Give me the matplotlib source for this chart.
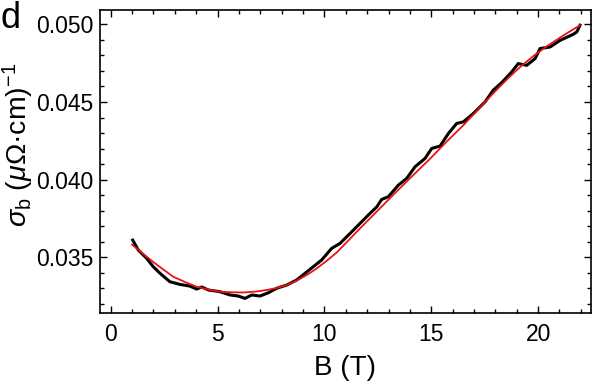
import numpy as np
import matplotlib
matplotlib.use("Agg")
import matplotlib.pyplot as plt
from matplotlib.ticker import MultipleLocator, FormatStrFormatter

plt.rcParams['font.family'] = ['Liberation Sans', 'DejaVu Sans']
plt.rcParams['mathtext.fontset'] = 'custom'
plt.rcParams['mathtext.rm'] = 'Liberation Sans'
plt.rcParams['mathtext.it'] = 'Liberation Sans:italic'

b_data = [1.03, 1.29, 1.68, 1.99, 2.31, 2.77, 3.24, 3.71, 4.02, 4.26, 4.57, 5.11,
          5.58, 5.97, 6.28, 6.60, 6.99, 7.37, 7.77, 8.24, 8.70, 9.09, 9.48, 9.87,
          10.34, 10.73, 11.20, 11.67, 12.05, 12.45, 12.68, 12.99, 13.46, 13.85,
          14.24, 14.71, 15.02, 15.41, 15.80, 16.19, 16.50, 16.97, 17.52, 17.90,
          18.30, 18.76, 19.07, 19.47, 19.86, 20.09, 20.56, 21.03, 21.65, 21.81, 21.96]
sigma_data = [0.03611, 0.03547, 0.03494, 0.03440, 0.03397, 0.03343, 0.03326, 0.03315,
              0.03296, 0.03309, 0.03290, 0.03279, 0.03258, 0.03251, 0.03236, 0.03258,
              0.03251, 0.03272, 0.03301, 0.03322, 0.03354, 0.03397, 0.03440, 0.03483,
              0.03558, 0.03590, 0.03654, 0.03719, 0.03772, 0.03825, 0.03873, 0.03890,
              0.03965, 0.04008, 0.04083, 0.04137, 0.04201, 0.04216, 0.04297, 0.04362,
              0.04372, 0.04426, 0.04501, 0.04576, 0.04625, 0.04693, 0.04747, 0.04736,
              0.04780, 0.04844, 0.04854, 0.04897, 0.04936, 0.04951, 0.04994]

# fit curve (red)
b_fit = [1.0, 1.5, 1.99, 2.5, 2.93, 3.5, 4.02, 4.6, 5.11, 5.7, 6.21, 6.8, 7.30,
         7.8, 8.24, 8.7, 9.17, 9.6, 10.11, 10.58, 11.2, 11.82, 12.6, 13.38, 14.16,
         14.94, 15.72, 16.5, 17.28, 18.0, 18.61, 19.2, 19.8, 20.4, 21.2, 21.96]
sigma_fit = [0.03582, 0.03525, 0.03470, 0.03418, 0.03375, 0.03340, 0.03311, 0.03292,
             0.03279, 0.03275, 0.03274, 0.03280, 0.03290, 0.03304, 0.03322, 0.03350,
             0.03386, 0.03425, 0.03478, 0.03532, 0.03620, 0.03708, 0.03816, 0.03924,
             0.04030, 0.04134, 0.04245, 0.04350, 0.04465, 0.04570, 0.04655, 0.04730,
             0.04798, 0.04858, 0.04930, 0.04994]

fig = plt.figure(figsize=(6, 3.83), dpi=100)
ax = fig.add_axes([0.1667, 0.1828, 0.8178, 0.7911])

ax.plot(b_data, sigma_data, color='black', lw=2.2, solid_joinstyle='round')
ax.plot(b_fit, sigma_fit, color='#ee1111', lw=1.3)

ax.set_xlim(-0.5, 22.46)
ax.set_ylim(0.03142, 0.05092)
ax.xaxis.set_major_locator(MultipleLocator(5))
ax.xaxis.set_minor_locator(MultipleLocator(1))
ax.yaxis.set_major_locator(MultipleLocator(0.005))
ax.yaxis.set_minor_locator(MultipleLocator(0.001))
ax.yaxis.set_major_formatter(FormatStrFormatter('%.3f'))

ax.tick_params(which='both', direction='in', top=True, right=True, width=1)
ax.tick_params(which='major', length=5, labelsize=16.5)
ax.tick_params(axis='x', which='major', pad=7)
ax.tick_params(axis='y', which='major', pad=5)
ax.tick_params(which='minor', length=3)
for s in ax.spines.values():
    s.set_linewidth(1.2)

ax.set_xlabel('B (T)', fontsize=20)
ax.xaxis.set_label_coords(0.5, -0.138)
ax.set_ylabel(r'$\sigma_{\rm b}$ ($\mu\Omega$·cm)$^{-1}$', fontsize=20.5)
ax.yaxis.set_label_coords(-0.13, 0.555)

fig.text(0.0, 0.998, 'd', fontsize=26, ha='left', va='top')

fig.savefig('out.png', dpi=100)
